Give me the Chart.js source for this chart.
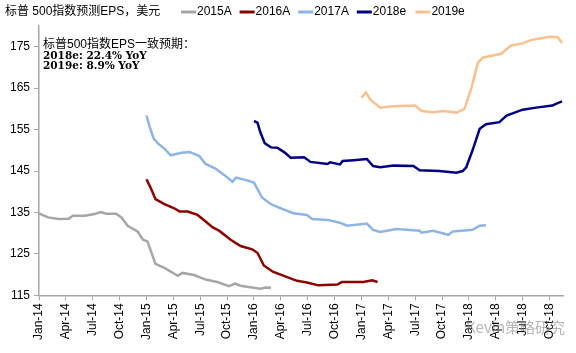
<!DOCTYPE html>
<html>
<head>
<meta charset="utf-8">
<script src="https://cdn.jsdelivr.net/npm/chart.js@4/dist/chart.umd.min.js"></script>
<style>
  html, body { margin: 0; padding: 0; background: #fff; }
  #wrap { width: 576px; height: 353px; }
</style>
</head>
<body>
<div id="wrap"><canvas id="epsChart" width="576" height="353"></canvas></div>
<script>
// months counted from Jan-2014 (0 = Jan-14), value = forecast EPS in USD
const eps2015A = [[0,134.8],[0.5,134.3],[1,133.8],[2.2,133.4],[3.3,133.5],[3.8,134.2],[5.1,134.2],[6.2,134.6],[6.9,135.1],[7.5,134.7],[8.6,134.7],[9.2,133.8],[9.9,131.8],[11,130.4],[11.6,128.4],[12.1,128.0],[12.5,125.6],[13,122.6],[14,121.6],[15.5,119.7],[16,120.4],[17.3,119.9],[18.6,118.8],[19.9,118.2],[21.2,117.2],[21.9,117.8],[22.5,117.3],[24.7,116.6],[25.3,116.9],[25.9,116.8]];
const eps2016A = [[12,143.0],[12.5,140.8],[13,138.2],[14,137.0],[15.1,136.0],[15.7,135.2],[16.6,135.2],[17.7,134.4],[18.5,133.0],[19.4,131.4],[20.1,130.6],[21.4,128.4],[22.5,126.9],[23.8,126.1],[24.4,125.2],[25.1,122.2],[26.1,120.7],[27.2,119.8],[28.8,118.5],[29.9,118.1],[31.2,117.4],[33.3,117.6],[33.8,118.2],[36.2,118.2],[37.2,118.6],[37.8,118.2]];
const eps2017A = [[12,158.4],[12.3,156.0],[12.8,152.8],[13.3,151.6],[14,150.4],[14.7,148.8],[15.9,149.4],[16.8,149.6],[17.9,148.6],[18.6,146.7],[19.7,145.6],[20.7,144.0],[21.6,142.4],[22,143.4],[23.1,142.8],[24,142.2],[24.9,138.6],[25.9,137.0],[27,136.0],[28.4,134.8],[29.9,134.4],[30.5,133.4],[32.2,133.2],[33.6,132.5],[34.4,131.8],[36.6,132.3],[37.3,130.8],[38.1,130.3],[39.9,131.0],[42.5,130.6],[42.7,130.1],[44,130.6],[45.7,129.6],[46.2,130.4],[48.4,130.8],[49.2,131.8],[49.9,131.9]];
const eps2018e = [[24,157.1],[24.4,156.6],[24.7,154.4],[25.2,151.7],[25.9,150.7],[26.6,150.6],[27.4,149.5],[28.1,148.2],[29.6,148.3],[30.3,147.2],[32.2,146.7],[32.5,147.1],[33.6,146.6],[33.9,147.4],[35.1,147.6],[36.6,147.9],[37.3,146.2],[38.1,145.9],[39.6,146.3],[41.8,146.2],[42.5,145.2],[44.7,145.0],[46.6,144.6],[47.3,145.0],[47.7,145.9],[48.4,150.0],[49.2,155.2],[49.9,156.3],[51.4,156.8],[52.2,158.4],[54,159.8],[55.5,160.3],[57.3,160.8],[57.9,161.4],[58.4,161.8]];
const eps2019e = [[36,162.7],[36.5,164.0],[37,162.2],[38.1,160.3],[39.2,160.6],[40.3,160.7],[42,160.8],[42.7,159.5],[44,159.2],[45.1,159.5],[46.6,159.1],[47.5,160.0],[48.3,165.2],[49,171.2],[49.6,172.4],[51.6,173.3],[52.7,175.3],[54,175.8],[54.9,176.6],[57,177.4],[57.9,177.3],[58.4,175.9]];

const seriesNames = ['2015A', '2016A', '2017A', '2018e', '2019e'];
const seriesColors = ['#a6a6a6', '#8b0000', '#8db4e2', '#000080', '#fac090'];
const xTickLabels = ['Jan-14','Apr-14','Jul-14','Oct-14','Jan-15','Apr-15','Jul-15','Oct-15','Jan-16','Apr-16','Jul-16','Oct-16','Jan-17','Apr-17','Jul-17','Oct-17','Jan-18','Apr-18','Jul-18','Oct-18'];
const yTickValues = [115, 125, 135, 145, 155, 165, 175];

const chartTitle = '标普 500指数预测EPS，美元';
const noteLines = ['标普500指数EPS一致预期：', '2018e: 22.4% YoY', '2019e: 8.9% YoY'];

const toPoints = arr => arr.map(p => ({ x: p[0], y: p[1] }));
const allSeries = [eps2015A, eps2016A, eps2017A, eps2018e, eps2019e];

const AXIS_COLOR = '#a6a6a6';
const SANS = '"Liberation Sans", Arial, "Noto Sans CJK SC", sans-serif';

// title, legend and the note box are drawn straight onto the canvas
const headerPlugin = {
    id: 'header',
    afterDraw(chart) {
        const ctx = chart.ctx;
        ctx.save();
        ctx.textBaseline = 'middle';
        ctx.fillStyle = '#000';
        ctx.font = '12px ' + SANS;
        ctx.fillText(chartTitle, 5, 12);

        chart.data.datasets.forEach((ds, i) => {
            const x0 = 181 + i * 58.6;
            ctx.strokeStyle = ds.borderColor;
            ctx.lineWidth = 3;
            ctx.beginPath();
            ctx.moveTo(x0, 12);
            ctx.lineTo(x0 + 15, 12);
            ctx.stroke();
            ctx.fillStyle = '#000';
            ctx.fillText(ds.label, x0 + 16, 12);
        });

        ctx.font = '12px ' + SANS;
        ctx.fillText(noteLines[0], 43, 45);
        ctx.font = 'bold 10.5px "DejaVu Serif", serif';
        ctx.fillText(noteLines[1], 43, 56);
        ctx.fillText(noteLines[2], 43, 66);

        // wechat watermark
        ctx.font = '15px "Noto Sans CJK SC", sans-serif';
        ctx.fillStyle = 'rgba(120,120,120,0.55)';
        ctx.fillText('Kevin策略研究', 466, 327);
        ctx.restore();
    }
};

new Chart('epsChart', {
    type: 'line',
    data: {
        datasets: allSeries.map((s, i) => ({
            label: seriesNames[i],
            data: toPoints(s),
            borderColor: seriesColors[i],
            backgroundColor: seriesColors[i],
            borderWidth: 2.5,
            pointRadius: 0,
            tension: 0,
            fill: false
        }))
    },
    options: {
        responsive: false,
        animation: false,
        devicePixelRatio: 1,
        layout: { padding: { top: 26, right: 13, bottom: 10, left: 6 } },
        plugins: { legend: { display: false }, tooltip: { enabled: false } },
        scales: {
            x: {
                type: 'linear',
                min: 0,
                max: 58.5,
                afterBuildTicks: axis => {
                    axis.ticks = xTickLabels.map((_, i) => ({ value: i * 3 }));
                },
                ticks: {
                    autoSkip: false,
                    maxRotation: 90,
                    minRotation: 90,
                    padding: 3,
                    color: '#000',
                    font: { family: SANS, size: 12 },
                    callback: v => xTickLabels[Math.round(v / 3)]
                },
                grid: { drawOnChartArea: false, drawTicks: true, tickLength: 5, color: AXIS_COLOR },
                border: { color: AXIS_COLOR, width: 1.5 }
            },
            y: {
                min: 115,
                max: 180,
                afterBuildTicks: axis => {
                    axis.ticks = yTickValues.map(v => ({ value: v }));
                },
                ticks: {
                    padding: 4,
                    color: '#000',
                    font: { family: SANS, size: 12 }
                },
                grid: { drawOnChartArea: false, drawTicks: true, tickLength: 5, color: AXIS_COLOR },
                border: { color: AXIS_COLOR, width: 1.5 }
            }
        }
    },
    plugins: [headerPlugin]
});
</script>
</body>
</html>
